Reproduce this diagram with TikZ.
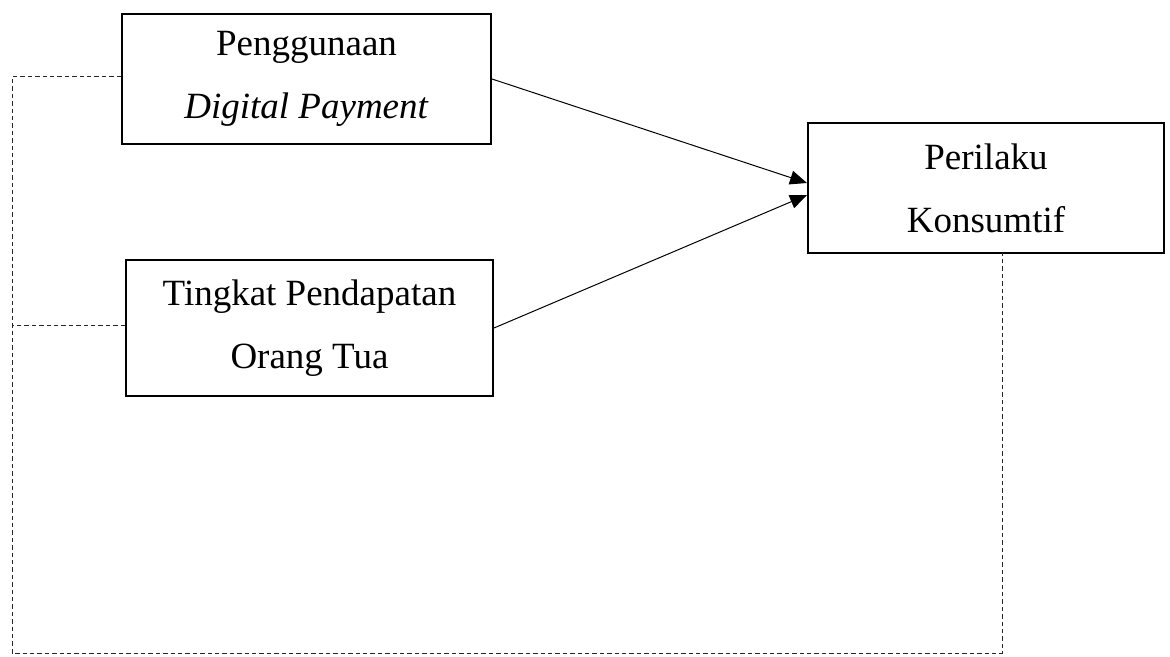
\documentclass[tikz,border=0pt]{standalone}
\usepackage{fontspec}
\setmainfont{Liberation Serif}
\usepackage{tikz}
\usetikzlibrary{arrows.meta, positioning, calc}

\begin{document}
\begin{tikzpicture}[x=0.5pt, y=-0.5pt,
    var/.style={draw, line width=1pt, align=center, inner sep=0pt,
        font=\fontsize{18.5}{31.5}\selectfont},
    arr/.style={line width=0.5pt, -{Triangle[length=8.5pt, width=7pt]}},
    lnk/.style={black!85, line width=0.5pt, dash pattern=on 2.2pt off 1.5pt}]
    \useasboundingbox (0,0) rectangle (1170,657);
    \node[var, minimum width=184.5pt, minimum height=65pt] (pay) at (306.5,79) {Penggunaan\\\textit{Digital Payment}};
    \node[var, minimum width=183.5pt, minimum height=68pt] (inc) at (309.5,328) {Tingkat Pendapatan\\Orang Tua};
    \node[var, minimum width=178pt, minimum height=65pt] (kons) at (986,188) {Perilaku\\Konsumtif};
    \foreach \s/\d in {pay/2.5pt,inc/-3.5pt} {
        \draw[arr] (\s.east) -- ([yshift=\d]kons.west);
    }
    \coordinate (lt) at (12,77);
    \coordinate (lb) at (12,653);
    \coordinate (rb) at (1002,653);
    \coordinate (rt) at (1002,253);
    \draw[lnk] ([yshift=1pt]pay.west) -- (lt) -- (lb) -- (rb) -- (rt);
    \draw[lnk] ([yshift=1.5pt]inc.west) -- ([yshift=1.5pt]inc.west -| lt);
\end{tikzpicture}
\end{document}
